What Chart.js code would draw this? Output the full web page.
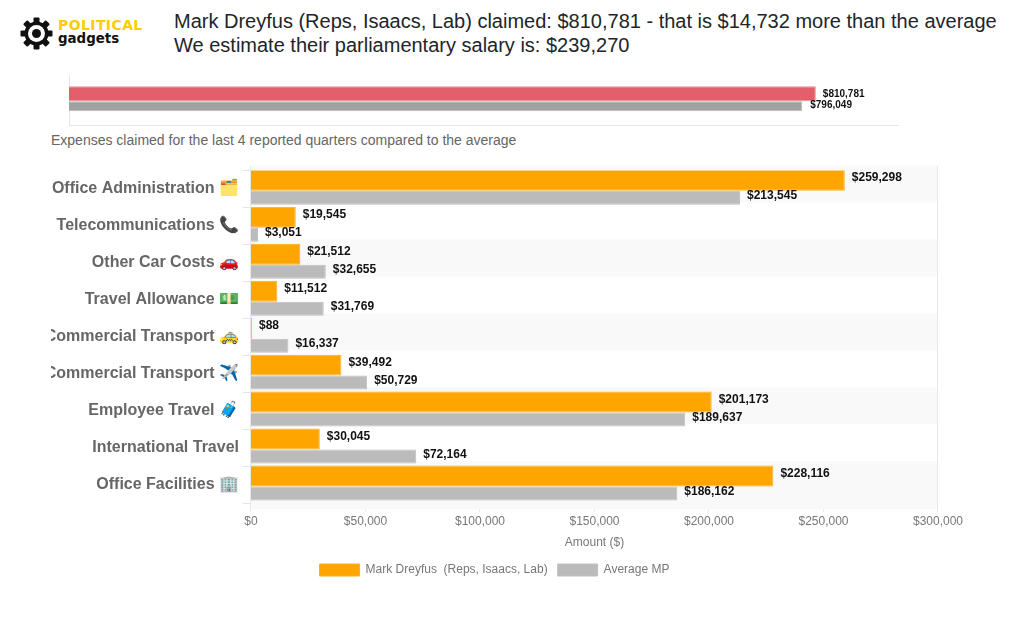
<!DOCTYPE html>
<html><head><meta charset="utf-8">
<script src="https://cdn.jsdelivr.net/npm/chart.js@4"></script>
<style>
html,body{margin:0;padding:0;background:#fff;width:1028px;height:629px;overflow:hidden;position:relative}
.t{position:absolute;white-space:nowrap;font-family:"Liberation Sans",Arial,sans-serif}
#mainTitle{left:174px;top:9px;font-size:20px;line-height:24px;color:#212529}
#sub{left:51px;top:132px;font-size:14px;color:#666}
#brand1{left:58px;top:17px;font:bold 14px "DejaVu Sans";color:#fc0;letter-spacing:.4px}
#brand2{left:58px;top:31px;font:bold 13.4px "DejaVu Sans";color:#111}
.c{position:absolute}
</style></head><body>
<svg class="c" style="left:19.5px;top:16.5px" width="33" height="33" viewBox="-16.5 -16.5 33 33">
<g fill="#111"><circle r="12"/>
<g><rect x="-3" y="-16" width="6" height="32" rx="1"/><rect x="-3" y="-16" width="6" height="32" rx="1" transform="rotate(45)"/><rect x="-3" y="-16" width="6" height="32" rx="1" transform="rotate(90)"/><rect x="-3" y="-16" width="6" height="32" rx="1" transform="rotate(135)"/></g></g>
<circle r="8.5" fill="#fff"/><circle r="4.5" fill="#111"/></svg>
<div class="t" id="brand1">POLITICAL</div><div class="t" id="brand2">gadgets</div>
<div class="t" id="mainTitle">Mark Dreyfus (Reps, Isaacs, Lab) claimed: $810,781 - that is $14,732 more than the average<br>We estimate their parliamentary salary is: $239,270</div>
<div class="t" id="sub">Expenses claimed for the last 4 reported quarters compared to the average</div>
<canvas id="top" class="c" style="left:51px;top:70px"></canvas>
<canvas id="main" class="c" style="left:51px;top:157px"></canvas>
<script>
const totalLabels = ['Total'];
const totalMember = [810781];
const totalAverage = [796049];
const categories = ['Office Administration 🗂️','Telecommunications 📞','Other Car Costs 🚗','Travel Allowance 💵','Commercial Transport 🚕','Commercial Transport ✈️','Employee Travel 🧳','International Travel','Office Facilities 🏢'];
const memberValues = [259298,19545,21512,11512,88,39492,201173,30045,228116];
const averageValues = [213545,3051,32655,31769,16337,50729,189637,72164,186162];
const memberName = 'Mark Dreyfus  (Reps, Isaacs, Lab)';
const averageName = 'Average MP';
const money = v => '$' + v.toLocaleString('en-US');
const FONT = '"Liberation Sans",Arial,sans-serif';

// Prints each bar's amount just past its end.
const valueLabels = size => ({
  id:'valueLabels',
  afterDatasetsDraw(c){
    const g=c.ctx; g.save();
    g.font=`bold ${size}px ${FONT}`; g.fillStyle='#111'; g.textBaseline='middle';
    c.data.datasets.forEach((d,i)=>c.getDatasetMeta(i).data.forEach((b,j)=>{
      g.fillText(money(d.data[j]), b.x+d.labelGap, b.y+d.labelShift);
    }));
    g.restore();
  }
});
// Alternating row shading, outer axis rules and the small ticks under the value axis.
const rowBands = {
  id:'rowBands',
  beforeDatasetsDraw(c){
    const g=c.ctx, y=c.scales.y, x=c.scales.x, step=y.getPixelForValue(1)-y.getPixelForValue(0);
    const top=y.top-5, bottom=y.bottom+6;
    g.save(); g.fillStyle='#f9f9f9';
    categories.forEach((_,i)=>{
      if(i%2) return;
      const t=y.getPixelForValue(i)-step/2-5;
      g.fillRect(x.left,t,x.right-x.left,i===categories.length-1?step+11:step);
    });
    g.strokeStyle='#e8e8e8'; g.lineWidth=1;
    x.ticks.forEach((tk,i)=>{
      const px=Math.round(x.getPixelForValue(tk.value))-.5;
      const edge=i===0||i===x.ticks.length-1;
      g.beginPath(); g.moveTo(px,edge?top:bottom); g.lineTo(px,bottom+3); g.stroke();
    });
    g.restore();
  }
};
function size(id,w,h){const e=document.getElementById(id);e.width=w;e.height=h;e.style.width=w+'px';e.style.height=h+'px';return e;}

new Chart(size('top',860,62),{type:'bar',plugins:[valueLabels(10)],
 data:{labels:totalLabels,datasets:[
  {data:totalMember,backgroundColor:'#e45f6c',borderColor:'#ee8a94',borderWidth:1,barPercentage:15/12.5,categoryPercentage:25/50,labelGap:7,labelShift:0},
  {data:totalAverage,backgroundColor:'#a1a1a1',borderColor:'#bbb',borderWidth:1,barPercentage:10/12.5,categoryPercentage:25/50,labelGap:8,labelShift:-1}]},
 options:{indexAxis:'y',responsive:false,animation:false,
  layout:{padding:{left:18,right:13,top:5,bottom:7}},
  plugins:{legend:{display:false},tooltip:{enabled:false}},
  scales:{x:{min:0,max:900000,afterFit(s){s.height=0},ticks:{display:false},border:{color:'#e5e5e5'},grid:{display:false}},
          y:{afterFit(s){s.width=0},ticks:{display:false},border:{color:'#e5e5e5'},grid:{display:false}}}}});

new Chart(size('main',930,429),{type:'bar',plugins:[rowBands,valueLabels(12)],
 data:{labels:categories,datasets:[
  {label:memberName,data:memberValues,backgroundColor:'#ffa500',borderColor:'#ffae1a',borderWidth:1,minBarLength:1,barPercentage:21/17.5,categoryPercentage:35/37,labelGap:7,labelShift:-2.5},
  {label:averageName,data:averageValues,backgroundColor:'#bbbbbb',borderColor:'#c0c0c0',borderWidth:1,barPercentage:14/17.5,categoryPercentage:35/37,labelGap:7,labelShift:-2}]},
 options:{indexAxis:'y',responsive:false,animation:false,
  layout:{padding:{left:0,right:43,top:0,bottom:0}},
  plugins:{tooltip:{enabled:false},
   legend:{position:'bottom',labels:{boxWidth:40,boxHeight:12,color:'#777',font:{size:12,family:FONT}}}},
  scales:{
   x:{min:0,max:300000,ticks:{stepSize:50000,padding:11,callback:v=>money(v),color:'#777',font:{size:12,family:FONT}},
      title:{display:true,text:'Amount ($)',color:'#777',font:{size:12,family:FONT},padding:{top:-4,bottom:4}},
      grid:{display:false,drawTicks:false},border:{display:false}},
   y:{afterFit(s){s.width=200},ticks:{color:'#666',padding:4,font:{size:16,weight:'bold',family:FONT},autoSkip:false},
      grid:{drawOnChartArea:false,color:'#e5e5e5',tickLength:8,offset:true},border:{display:false}}}}});
</script></body></html>
